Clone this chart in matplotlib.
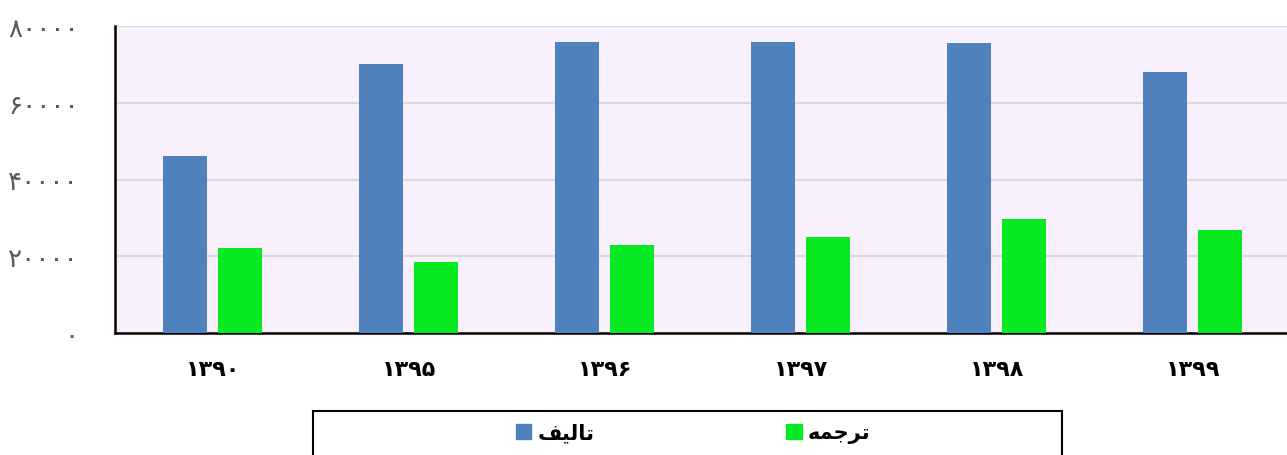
import numpy as np
import matplotlib
matplotlib.use('Agg')
from matplotlib import pyplot as plt
from matplotlib.patches import Rectangle, Patch

# data
years = ['۱۳۹۰', '۱۳۹۵', '۱۳۹۶', '۱۳۹۷', '۱۳۹۸', '۱۳۹۹']
talif = [46000, 70000, 75900, 75900, 75600, 68000]      # تالیف
tarjome = [22200, 18500, 23000, 25000, 29700, 26900]    # ترجمه
yticks = [0, 20000, 40000, 60000, 80000]
ytick_labels = ['۰', '۲۰۰۰۰', '۴۰۰۰۰', '۶۰۰۰۰', '۸۰۰۰۰']
series_names = ['تالیف', 'ترجمه']

# matplotlib has no arabic shaping, so join letters by hand
FORMS = {
    'ت': ('\uFE95', '\uFE96', '\uFE97', '\uFE98'),
    'ا': ('\uFE8D', '\uFE8E', None, None),
    'ل': ('\uFEDD', '\uFEDE', '\uFEDF', '\uFEE0'),
    'ی': ('\uFBFC', '\uFBFD', '\uFBFE', '\uFBFF'),
    'ف': ('\uFED1', '\uFED2', '\uFED3', '\uFED4'),
    'ر': ('\uFEAD', '\uFEAE', None, None),
    'ج': ('\uFE9D', '\uFE9E', '\uFE9F', '\uFEA0'),
    'م': ('\uFEE1', '\uFEE2', '\uFEE3', '\uFEE4'),
    'ه': ('\uFEE9', '\uFEEA', '\uFEEB', '\uFEEC'),
}


def shape(word):
    out = []
    for i, ch in enumerate(word):
        f = FORMS[ch]
        prev_joins = i > 0 and FORMS[word[i - 1]][2] is not None
        next_exists = i < len(word) - 1
        can_join_next = f[2] is not None and next_exists
        if prev_joins and can_join_next:
            out.append(f[3])
        elif prev_joins:
            out.append(f[1])
        elif can_join_next:
            out.append(f[2])
        else:
            out.append(f[0])
    return ''.join(reversed(out))


blue = '#4F81BD'
green = '#07EA22'

fig = plt.figure(figsize=(12.87, 4.56), dpi=100)
ax = fig.add_axes([115 / 1287, 122 / 456, 1176 / 1287, 307 / 456])
ax.set_facecolor('#F8F0FC')

x = np.arange(len(years))
w = 0.224
ax.bar(x - 0.143, talif, w, color=blue, zorder=3)
ax.bar(x + 0.14, tarjome, w, color=green, zorder=3)

ax.set_xlim(-0.5, 5.5)
ax.set_ylim(0, 80000)
ax.set_yticks(yticks)
ax.set_yticklabels(ytick_labels, fontsize=19, color='#595959')
ax.set_xticks(x)
ax.set_xticklabels(years, fontsize=16, fontweight='bold')
ax.tick_params(axis='both', length=0)
ax.tick_params(axis='y', pad=26)
ax.tick_params(axis='x', pad=19)
ax.grid(axis='y', color='#D9D9D9', lw=1.5, zorder=0)

for s in ['top', 'right']:
    ax.spines[s].set_visible(False)
for s in ['left', 'bottom']:
    ax.spines[s].set_linewidth(1.8)
    ax.spines[s].set_color('black')

# legend box runs off the bottom of the image
fig.add_artist(Rectangle((313 / 1287, -0.2), 749 / 1287, 0.2 + 44 / 456,
                         transform=fig.transFigure, fill=False, lw=1.5,
                         edgecolor='black'))
handles = [Patch(color=blue, label=shape(series_names[0])),
           Patch(color=green, label=shape(series_names[1]))]
fig.legend(handles=handles, ncol=2, frameon=False, loc='center',
           bbox_to_anchor=(693 / 1287, 1 - 434 / 456),
           prop={'size': 15, 'weight': 'bold'}, handlelength=0.75,
           handleheight=0.75, handletextpad=0.3, columnspacing=9.2)

fig.savefig('out.png', dpi=100)
